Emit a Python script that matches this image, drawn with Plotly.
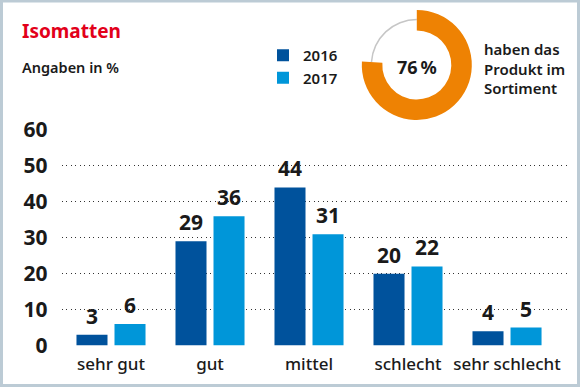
import plotly.graph_objects as go

categories = ["sehr gut", "gut", "mittel", "schlecht", "sehr schlecht"]
series_names = ["2016", "2017"]
values_2016 = [3, 29, 44, 20, 4]
values_2017 = [6, 36, 31, 22, 5]
share_value = 76
share_label = "haben das<br>Produkt im<br>Sortiment"
y_ticks = [0, 10, 20, 30, 40, 50, 60]
title_text = "Isomatten"
subtitle_text = "Angaben in %"

W, H = 580, 387
FONT = "Noto Sans"
C16 = "#00529c"
C17 = "#0096d9"
ORANGE = "#ee8203"

fig = go.Figure()
for name, vals, col in [(series_names[0], values_2016, C16), (series_names[1], values_2017, C17)]:
    fig.add_trace(go.Bar(x=categories, y=vals, name=name, marker=dict(color=col, line=dict(width=0)),
                         hoverinfo="skip"))

# value labels above bars
for vals, shift in [(values_2016, -19), (values_2017, 19)]:
    for c, v in zip(categories, vals):
        fig.add_annotation(x=c, y=v, xref="x", yref="y", text=str(v), showarrow=False,
                           xshift=shift, yshift=3, yanchor="bottom", xanchor="center",
                           font=dict(family=FONT, size=21, color="#1a1a1a", weight=700))

def px_dom_x(a, b):
    return [a / W, b / W]

def px_dom_y(top, bottom):
    return [(H - bottom) / H, (H - top) / H]

def ann_paper(xpx, ypx, text, size, color="#1a1a1a", weight=600, xanchor="left", align="left"):
    fig.add_annotation(x=xpx / W, y=(H - ypx) / H, xref="paper", yref="paper", text=text,
                       showarrow=False, xanchor=xanchor, yanchor="middle", align=align,
                       font=dict(family=FONT, size=size, color=color, weight=weight))

cx, cy, R = 416.8, 65, 55
# grey thin ring for remainder
rg = 46.2
fig.add_trace(go.Pie(values=[share_value, 100 - share_value], sort=False, direction="clockwise", rotation=0,
                     hole=44.7 / rg, marker=dict(colors=["rgba(0,0,0,0)", "#c6c6c6"], line=dict(width=0)),
                     textinfo="none", hoverinfo="skip", showlegend=False,
                     domain=dict(x=px_dom_x(cx - rg, cx + rg), y=px_dom_y(cy - rg, cy + rg))))
fig.add_trace(go.Pie(values=[share_value, 100 - share_value], sort=False, direction="clockwise", rotation=0,
                     hole=34.5 / R, marker=dict(colors=[ORANGE, "rgba(0,0,0,0)"], line=dict(width=0)),
                     textinfo="none", hoverinfo="skip", showlegend=False,
                     domain=dict(x=px_dom_x(cx - R, cx + R), y=px_dom_y(cy - R, cy + R))))

ann_paper(cx, 66.5, f"{share_value}\u2009%", 18, weight=700, xanchor="center", align="center")
ann_paper(482, 68, share_label, 15)
ann_paper(20, 31, title_text, 19, color="#e2001a", weight=700)
ann_paper(20, 67, subtitle_text, 14.5)

# frame
fig.add_shape(type="rect", xref="paper", yref="paper", x0=1.5 / W, x1=(W - 1.5) / W, y0=1.5 / H, y1=(H - 1) / H,
              line=dict(color="#bccbd5", width=3), layer="above")

fig.update_layout(
    width=W, height=H, margin=dict(l=0, r=0, t=0, b=0, autoexpand=False),
    paper_bgcolor="white", plot_bgcolor="white",
    barmode="group", bargap=0.232, bargroupgap=0.184,
    font=dict(family=FONT, color="#1a1a1a"),
    xaxis=dict(domain=px_dom_x(61.5, 568.4), range=[-0.5, 4.62], showgrid=False, zeroline=False,
               showline=False, ticks="", ticklabelstandoff=6,
               tickfont=dict(family=FONT, size=17, color="#1a1a1a", weight=500),
               fixedrange=True, automargin=False),
    yaxis=dict(domain=px_dom_y(130, 345.5), range=[0, 60], tickvals=y_ticks, showgrid=True,
               gridcolor="#333333", gridwidth=1.3, griddash="1px,3.5px", zeroline=False, showline=False,
               ticks="", ticklabelstandoff=13, automargin=False,
               tickfont=dict(family=FONT, size=21, color="#1a1a1a", weight=700), fixedrange=True),
    legend=dict(x=263 / W, y=(H - 39) / H, xanchor="left", yanchor="top", orientation="v",
                font=dict(family=FONT, size=15, color="#1a1a1a", weight=600), bgcolor="rgba(0,0,0,0)",
                itemwidth=30, tracegroupgap=4),
    showlegend=True,
)

fig.write_html("out.html", post_script="document.body.style.margin='0';",
               config={"displayModeBar": False})
